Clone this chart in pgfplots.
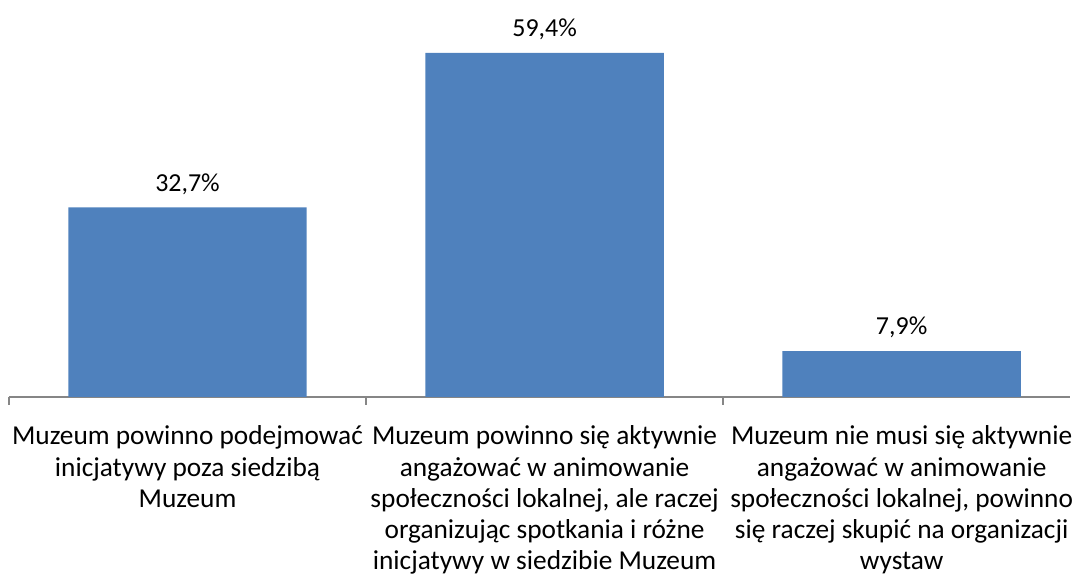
\documentclass[border=0pt]{standalone}
\usepackage{fontspec}
\setmainfont{Carlito}
\usepackage{pgfplots}
\pgfplotsset{compat=1.18}
\definecolor{barblue}{HTML}{4F81BD}
\definecolor{axgray}{HTML}{868686}

\begin{document}
\begin{tikzpicture}
\begin{axis}[
  scale only axis, width=532pt, height=188.8pt,
  xmin=-0.5, xmax=2.472, ymin=0, ymax=65,
  axis x line*=bottom, axis y line=none,
  axis line style={axgray, line width=0.9pt},
  xtick={0,1,2}, major tick length=0pt,
  xticklabels={
    {Muzeum powinno podejmować\\inicjatywy poza siedzibą\\Muzeum},
    {Muzeum powinno się aktywnie\\angażować w animowanie\\społeczności lokalnej, ale raczej\\organizując spotkania i różne\\inicjatywy w siedzibie Muzeum},
    {Muzeum nie musi się aktywnie\\angażować w animowanie\\społeczności lokalnej, powinno\\się raczej skupić na organizacji\\wystaw}},
  xticklabel style={align=center, font=\fontsize{13.7}{15.6}\selectfont, anchor=north, inner xsep=0pt, yshift=-11pt},
  extra x ticks={-0.5,0.5,1.5}, extra x tick labels={},
  extra x tick style={major tick length=4pt, tick align=outside, tick style={axgray, line width=0.9pt}},
  ybar, bar width=119.5pt, clip=false,
  /pgf/number format/assume math mode=true,
  nodes near coords={\pgfmathprintnumber[fixed,zerofill,precision=1,use comma]{\pgfplotspointmeta}\%},
  every node near coord/.append style={font=\fontsize{13}{15}\selectfont, text=black, yshift=3pt},
]
\addplot[fill=barblue, draw=none] coordinates {(0,32.7) (1,59.4) (2,7.9)};
\path (rel axis cs:0,0) ++(-4.5pt,-88pt) rectangle ++(536.5pt,287pt);
\end{axis}
\end{tikzpicture}
\end{document}
